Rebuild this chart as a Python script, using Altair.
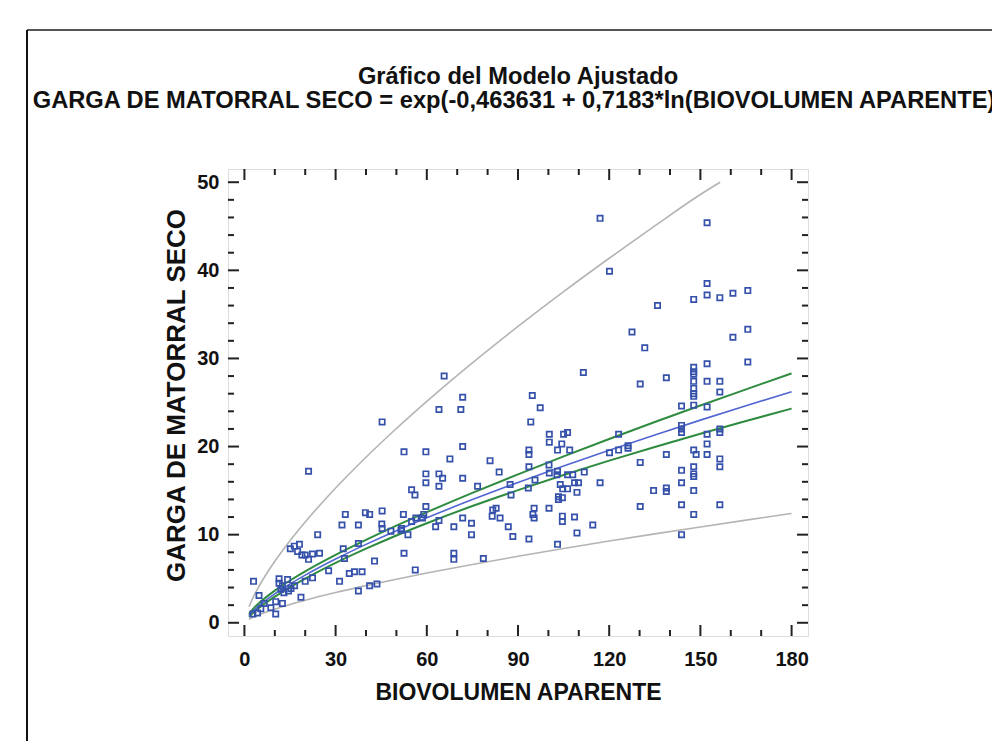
import altair as alt
import pandas as pd

# ---------------- data ----------------
pts_x = [
    21.1, 33.2, 39.8, 41.2, 45.3, 52.3, 32.1, 37.5, 45.2, 45.3, 24.1, 15.1, 16.4, 18.1, 17.5, 18.9,
    20.0, 22.4, 21.1, 24.7, 32.5, 32.9, 37.5, 48.2, 51.5, 52.5, 42.8, 27.7, 31.3, 34.5, 36.2, 38.7,
    37.5, 41.2, 43.6, 3.0, 11.4, 11.4, 14.2, 15.3, 12.0, 20.0, 22.4, 4.8, 8.7, 10.3, 12.5, 18.6,
    10.3, 5.4, 4.3, 2.8, 6.5, 12.5, 13.0, 16.5, 14.5, 45.3,
    65.7, 71.8, 64.0, 71.2, 94.7, 97.3, 94.2, 100.3, 100.3, 103.0, 52.5, 59.7, 71.8, 67.6, 80.8, 83.8,
    93.6, 93.6, 93.6, 100.2, 59.7, 59.7, 64.0, 65.2, 64.0, 71.8, 76.7, 55.0, 56.1, 87.4, 87.7, 95.6,
    93.4, 100.3, 102.8, 103.3, 103.3, 59.7, 59.0, 56.4, 51.7, 53.8, 62.9, 64.0, 71.8, 68.9, 74.7, 74.7,
    81.7, 82.8, 81.5, 84.1, 86.8, 88.3, 93.6, 95.3, 94.9, 95.3, 100.2, 103.0, 68.9, 68.9, 78.6, 56.2,
    55.0, 58.6,
    111.5, 130.2, 138.8, 147.8, 147.8, 147.8, 147.8, 147.8, 147.8, 143.8, 147.8, 143.8, 143.8, 143.8,
    123.1, 147.8, 148.6, 138.8, 130.2, 120.1, 123.1, 126.2, 126.2, 143.8, 147.8, 147.8, 147.8, 143.8,
    134.6, 138.8, 138.8, 147.8, 130.2, 143.8, 147.8, 143.8, 117.0, 111.8, 106.3, 108.0, 103.0, 108.6,
    109.9, 109.4, 103.9, 104.7, 106.3, 104.6, 104.6, 104.6, 108.6, 109.4, 114.6, 105.0, 106.3, 104.4,
    107.0, 147.8,
    117.0, 152.2, 120.1, 152.2, 147.8, 152.2, 156.4, 160.7, 165.6, 135.9, 127.5, 131.7, 160.7, 165.6,
    165.6, 152.2, 152.2, 156.4, 156.4, 152.2, 156.4, 156.4, 152.2, 152.2, 152.2, 156.4, 156.4, 156.4,
]
pts_y = [
    17.2, 12.3, 12.5, 12.3, 12.7, 12.3, 11.1, 11.1, 11.2, 10.7, 10.0, 8.4, 8.7, 8.9, 8.1, 7.7,
    7.7, 7.8, 7.2, 7.9, 8.4, 7.3, 9.0, 10.4, 10.5, 7.9, 7.0, 5.9, 4.7, 5.6, 5.8, 5.8,
    3.6, 4.2, 4.4, 4.7, 5.0, 4.5, 4.9, 3.9, 3.8, 4.7, 5.1, 3.1, 1.7, 2.4, 2.2, 2.9,
    1.0, 1.6, 1.1, 1.0, 2.2, 4.2, 3.4, 4.2, 3.6, 22.8,
    28.0, 25.6, 24.2, 24.2, 25.8, 24.4, 22.8, 21.4, 20.5, 19.6, 19.4, 19.4, 20.0, 18.6, 18.4, 17.1,
    19.6, 19.1, 17.7, 17.9, 16.9, 15.9, 16.9, 16.4, 15.5, 16.4, 15.5, 15.1, 14.5, 15.7, 14.5, 16.2,
    15.3, 17.0, 16.8, 14.3, 14.0, 13.2, 12.3, 11.9, 10.7, 10.0, 10.9, 11.6, 11.9, 10.9, 11.3, 10.0,
    12.8, 13.0, 12.1, 11.9, 10.9, 9.8, 9.5, 13.0, 12.3, 11.9, 13.0, 8.9, 7.9, 7.2, 7.3, 6.0,
    11.5, 11.9,
    28.4, 27.1, 27.8, 29.0, 28.5, 27.4, 26.6, 26.0, 25.7, 24.6, 24.7, 22.4, 22.0, 21.6,
    21.4, 19.6, 19.1, 19.1, 18.2, 19.3, 19.6, 19.8, 20.1, 17.3, 17.7, 16.9, 16.6, 15.9,
    15.0, 15.3, 14.9, 15.0, 13.2, 13.4, 12.3, 10.0, 15.9, 17.1, 16.8, 16.8, 17.2, 15.9,
    15.9, 14.8, 15.7, 15.2, 15.2, 14.2, 12.1, 11.5, 12.0, 10.2, 11.1, 21.4, 21.6, 20.3,
    19.6, 28.2,
    45.9, 45.4, 39.9, 38.5, 36.7, 37.2, 36.9, 37.4, 37.7, 36.0, 33.0, 31.2, 32.4, 33.3,
    29.6, 29.4, 27.4, 27.4, 26.2, 24.5, 22.0, 21.6, 21.4, 20.3, 19.1, 18.6, 17.7, 13.4,
]

# fitted model and limits
curve_x = [1.5, 3, 5, 10, 15, 20, 30, 40, 50, 60, 75, 90, 105, 120, 135, 150, 165, 180]
fit_y = [0.84, 1.39, 2.00, 3.29, 4.40, 5.41, 7.24, 8.90, 10.45, 11.91, 13.98, 15.93, 17.80,
         19.59, 21.32, 23.00, 24.63, 26.23]
conf_hi = [1.02, 1.63, 2.29, 3.65, 4.80, 5.84, 7.71, 9.41, 11.02, 12.55, 14.75, 16.85, 18.89,
           20.86, 22.78, 24.66, 26.49, 28.31]
conf_lo = [0.69, 1.18, 1.74, 2.96, 4.03, 5.01, 6.80, 8.41, 9.91, 11.30, 13.25, 15.06, 16.78,
           18.40, 19.95, 21.45, 22.90, 24.31]
pred_lo = [0.39, 0.65, 0.94, 1.55, 2.08, 2.56, 3.43, 4.22, 4.95, 5.64, 6.62, 7.55, 8.43,
           9.28, 10.09, 10.88, 11.65, 12.40]
pred_hi_x = [1.5, 3, 5, 10, 15, 20, 30, 40, 50, 60, 75, 90, 105, 120, 135, 150, 156.5]
pred_hi = [1.82, 2.97, 4.26, 6.98, 9.32, 11.44, 15.29, 18.79, 22.05, 25.13, 29.50, 33.63,
           37.58, 41.37, 45.04, 48.61, 50.0]

x_major = [0, 30, 60, 90, 120, 150, 180]
x_minor = [10, 20, 40, 50, 70, 80, 100, 110, 130, 140, 160, 170]
y_major = [0, 10, 20, 30, 40, 50]
y_minor = [2, 4, 6, 8, 12, 14, 16, 18, 22, 24, 26, 28, 32, 34, 36, 38, 42, 44, 46, 48]

title_lines = ["Gráfico del Modelo Ajustado",
               "GARGA DE MATORRAL SECO = exp(-0,463631 + 0,7183*ln(BIOVOLUMEN APARENTE))"]
x_title = "BIOVOLUMEN APARENTE"
y_title = "GARGA DE MATORRAL SECO"

# ---------------- chart ----------------
W, H = 580, 467
PAD_L, PAD_T = 220, 161
FONT = "Liberation Sans, Arial, sans-serif"

xs = alt.Scale(domain=[-5.4, 185.4], nice=False, zero=False)
ys = alt.Scale(domain=[-1.5, 51.5], nice=False, zero=False)

xaxis = alt.Axis(values=x_major, format="d", ticks=False, domain=False, grid=False,
                 labelFont=FONT, labelFontSize=20, labelFontWeight="bold", labelColor="#111",
                 labelPadding=13, title=x_title, titleFont=FONT, titleFontSize=23,
                 titleFontWeight="bold", titleColor="#111", titleX=W / 2, titleY=56,
                 titleBaseline="middle", titleAlign="center")
yaxis = alt.Axis(values=y_major, format="d", ticks=False, domain=False, grid=False,
                 labelFont=FONT, labelFontSize=20, labelFontWeight="bold", labelColor="#111",
                 labelPadding=9, title=y_title, titleFont=FONT, titleFontSize=26,
                 titleFontWeight="bold", titleColor="#111", titleX=-52, titleY=226,
                 titleAngle=270, titleBaseline="middle", titleAlign="center")


def X(field):
    return alt.X(field, type="quantitative", scale=xs, axis=xaxis)


def Y(field):
    return alt.Y(field, type="quantitative", scale=ys, axis=yaxis)


pts = pd.DataFrame({"x": pts_x, "y": pts_y})
curves = pd.DataFrame({"x": curve_x, "fit": fit_y, "chi": conf_hi, "clo": conf_lo, "plo": pred_lo})
upper = pd.DataFrame({"x": pred_hi_x, "phi": pred_hi})

base_c = alt.Chart(curves)
gray = "#b4b4b4"
green = "#2e8b3f"
blue = "#5266d2"

layers = [
    alt.Chart(upper).mark_line(color=gray, strokeWidth=1.6, interpolate="monotone").encode(x=X("x"), y=Y("phi")),
    base_c.mark_line(color=gray, strokeWidth=1.6, interpolate="monotone").encode(x=X("x"), y=Y("plo")),
    base_c.mark_line(color=green, strokeWidth=2, interpolate="monotone").encode(x=X("x"), y=Y("chi")),
    base_c.mark_line(color=green, strokeWidth=2, interpolate="monotone").encode(x=X("x"), y=Y("clo")),
    base_c.mark_line(color=blue, strokeWidth=1.6, interpolate="monotone").encode(x=X("x"), y=Y("fit")),
    alt.Chart(pts).mark_square(filled=False, size=28, strokeWidth=1.7, color="#3551aa", opacity=1).encode(
        x=X("x"), y=Y("y")),
]

# inward tick marks on all four sides
xmaj = alt.Chart(pd.DataFrame({"v": x_major}))
xmin = alt.Chart(pd.DataFrame({"v": x_minor}))
ymaj = alt.Chart(pd.DataFrame({"v": y_major}))
ymin = alt.Chart(pd.DataFrame({"v": y_minor}))
tk = dict(color="#222", strokeWidth=2)
for src, ln in ((xmaj, 11), (xmin, 6)):
    layers.append(src.mark_rule(**tk).encode(x=X("v"), y=alt.value(H), y2=alt.value(H - ln)))
    layers.append(src.mark_rule(**tk).encode(x=X("v"), y=alt.value(0), y2=alt.value(ln)))
for src, ln in ((ymaj, 11), (ymin, 6)):
    layers.append(src.mark_rule(**tk).encode(y=Y("v"), x=alt.value(0), x2=alt.value(ln)))
    layers.append(src.mark_rule(**tk).encode(y=Y("v"), x=alt.value(W), x2=alt.value(W - ln)))

# outer figure frame (top and left edges visible in the reference)
frame_df = pd.DataFrame({"k": [0]})
layers.append(alt.Chart(frame_df).mark_rule(color="#555", strokeWidth=2).encode(
    x=alt.value(27 - 228), x2=alt.value(1010 - 228), y=alt.value(30 - 169)))
layers.append(alt.Chart(frame_df).mark_rule(color="#111", strokeWidth=2).encode(
    x=alt.value(27 - 228), y=alt.value(30 - 169), y2=alt.value(760 - 169)))

chart = alt.layer(*layers).properties(
    width=W, height=H,
    title=alt.TitleParams(text=title_lines, font=FONT, fontSize=23.7, fontWeight="bold",
                          color="#111", lineHeight=24, offset=56, dy=140, anchor="middle",
                          frame="group"),
    autosize=alt.AutoSizeParams(type="none"),
    padding={"left": PAD_L, "top": PAD_T, "right": 984 - PAD_L - W, "bottom": 733 - PAD_T - H},
).configure_view(stroke="#111", strokeWidth=2).configure(background="white")

chart.save("out.html", embed_options={"renderer": "svg", "actions": False})
